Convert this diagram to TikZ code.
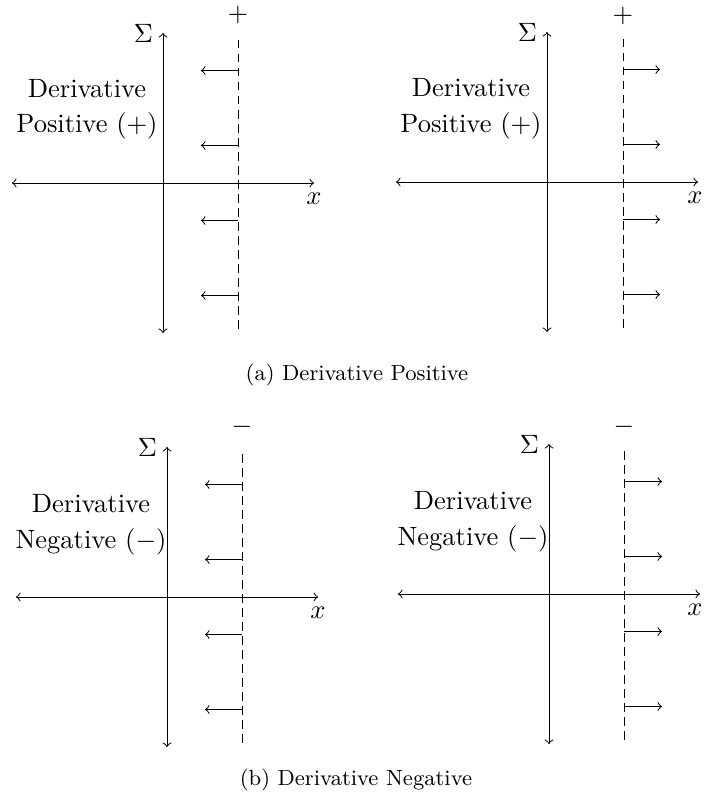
\RequirePackage{fix-cm}
\documentclass[tikz,border=0pt]{standalone}
\usetikzlibrary{arrows}
\begin{document}
\begin{tikzpicture}[x=0.4pt,y=-0.4pt,
  axis/.style={<->, line width=0.4pt},
  wall/.style={dash pattern=on 3.4pt off 2.2pt, line width=0.4pt},
  force/.style={->, line width=0.4pt},
  lbl/.style={font=\fontsize{10.6}{12}\selectfont, inner sep=0pt},
  txt/.style={font=\fontsize{10.6}{12}\selectfont, anchor=base, inner sep=0pt},
  captext/.style={font=\fontsize{8.8}{10.5}\selectfont, inner sep=0pt}]
\useasboundingbox (0,0) rectangle (703,799);

% ---------- panel (a) left ----------
\begin{scope}[shift={(163,183)}]
  \coordinate (a1T) at (0,-150); \coordinate (a1B) at (0,150);
  \coordinate (a1L) at (-151,0); \coordinate (a1R) at (151,0);
  \draw[axis] (a1B) -- (a1T);
  \draw[axis] (a1L) -- (a1R);
  \node[lbl, anchor=center] (a1S) at (-19.5,-150) {$\Sigma$};
  \node[lbl] (a1X) at (151,16) {$x$};
  \coordinate (a1DT) at (75,-143); \coordinate (a1DB) at (75,150);
  \draw[wall] (a1DT) -- (a1DB);
  \node[lbl] (a1sg) at (75,-168) {$+$};
  \foreach \yy [count=\i] in {-112.5,-37.5,37.5,112.5}{
    \coordinate (a1s\i) at (75,\yy); \coordinate (a1e\i) at (38,\yy);
    \draw[force] (a1s\i) -- (a1e\i);
  }
  \node[txt] (a1t1) at (-76,-85) {Derivative};
  \node[txt] (a1t2) at (-76,-50) {Positive $(+)$};
\end{scope}

% ---------- panel (a) right ----------
\begin{scope}[shift={(547,182)}]
  \coordinate (a2T) at (0,-150); \coordinate (a2B) at (0,150);
  \coordinate (a2L) at (-151,0); \coordinate (a2R) at (151,0);
  \draw[axis] (a2B) -- (a2T);
  \draw[axis] (a2L) -- (a2R);
  \node[lbl, anchor=center] (a2S) at (-19.5,-150) {$\Sigma$};
  \node[lbl] (a2X) at (148,16) {$x$};
  \coordinate (a2DT) at (76,-143); \coordinate (a2DB) at (76,150);
  \draw[wall] (a2DT) -- (a2DB);
  \node[lbl] (a2sg) at (76,-166) {$+$};
  \foreach \yy [count=\i] in {-112.5,-37.5,37.5,112.5}{
    \coordinate (a2s\i) at (76,\yy); \coordinate (a2e\i) at (113,\yy);
    \draw[force] (a2s\i) -- (a2e\i);
  }
  \node[txt] (a2t1) at (-76,-85) {Derivative};
  \node[txt] (a2t2) at (-76,-50) {Positive $(+)$};
\end{scope}

\node[captext] (capa) at (357,375) {(a) Derivative Positive};

% ---------- panel (b) left ----------
\begin{scope}[shift={(167,597)}]
  \coordinate (b1T) at (0,-150); \coordinate (b1B) at (0,150);
  \coordinate (b1L) at (-151,0); \coordinate (b1R) at (151,0);
  \draw[axis] (b1B) -- (b1T);
  \draw[axis] (b1L) -- (b1R);
  \node[lbl, anchor=center] (b1S) at (-19.5,-150) {$\Sigma$};
  \node[lbl] (b1X) at (151,16) {$x$};
  \coordinate (b1DT) at (75,-143); \coordinate (b1DB) at (75,150);
  \draw[wall] (b1DT) -- (b1DB);
  \node[lbl] (b1sg) at (75,-170) {$-$};
  \foreach \yy [count=\i] in {-112.5,-37.5,37.5,112.5}{
    \coordinate (b1s\i) at (75,\yy); \coordinate (b1e\i) at (38,\yy);
    \draw[force] (b1s\i) -- (b1e\i);
  }
  \node[txt] (b1t1) at (-76,-85) {Derivative};
  \node[txt] (b1t2) at (-76,-49) {Negative $(-)$};
\end{scope}

% ---------- panel (b) right ----------
\begin{scope}[shift={(549,594)}]
  \coordinate (b2T) at (0,-150); \coordinate (b2B) at (0,150);
  \coordinate (b2L) at (-151,0); \coordinate (b2R) at (151,0);
  \draw[axis] (b2B) -- (b2T);
  \draw[axis] (b2L) -- (b2R);
  \node[lbl, anchor=center] (b2S) at (-19.5,-150) {$\Sigma$};
  \node[lbl] (b2X) at (146,16) {$x$};
  \coordinate (b2DT) at (75,-143); \coordinate (b2DB) at (75,150);
  \draw[wall] (b2DT) -- (b2DB);
  \node[lbl] (b2sg) at (75,-167) {$-$};
  \foreach \yy [count=\i] in {-112.5,-37.5,37.5,112.5}{
    \coordinate (b2s\i) at (75,\yy); \coordinate (b2e\i) at (113,\yy);
    \draw[force] (b2s\i) -- (b2e\i);
  }
  \node[txt] (b2t1) at (-76,-85) {Derivative};
  \node[txt] (b2t2) at (-76,-49) {Negative $(-)$};
\end{scope}

\node[captext] (capb) at (356,780) {(b) Derivative Negative};
\end{tikzpicture}
\end{document}
